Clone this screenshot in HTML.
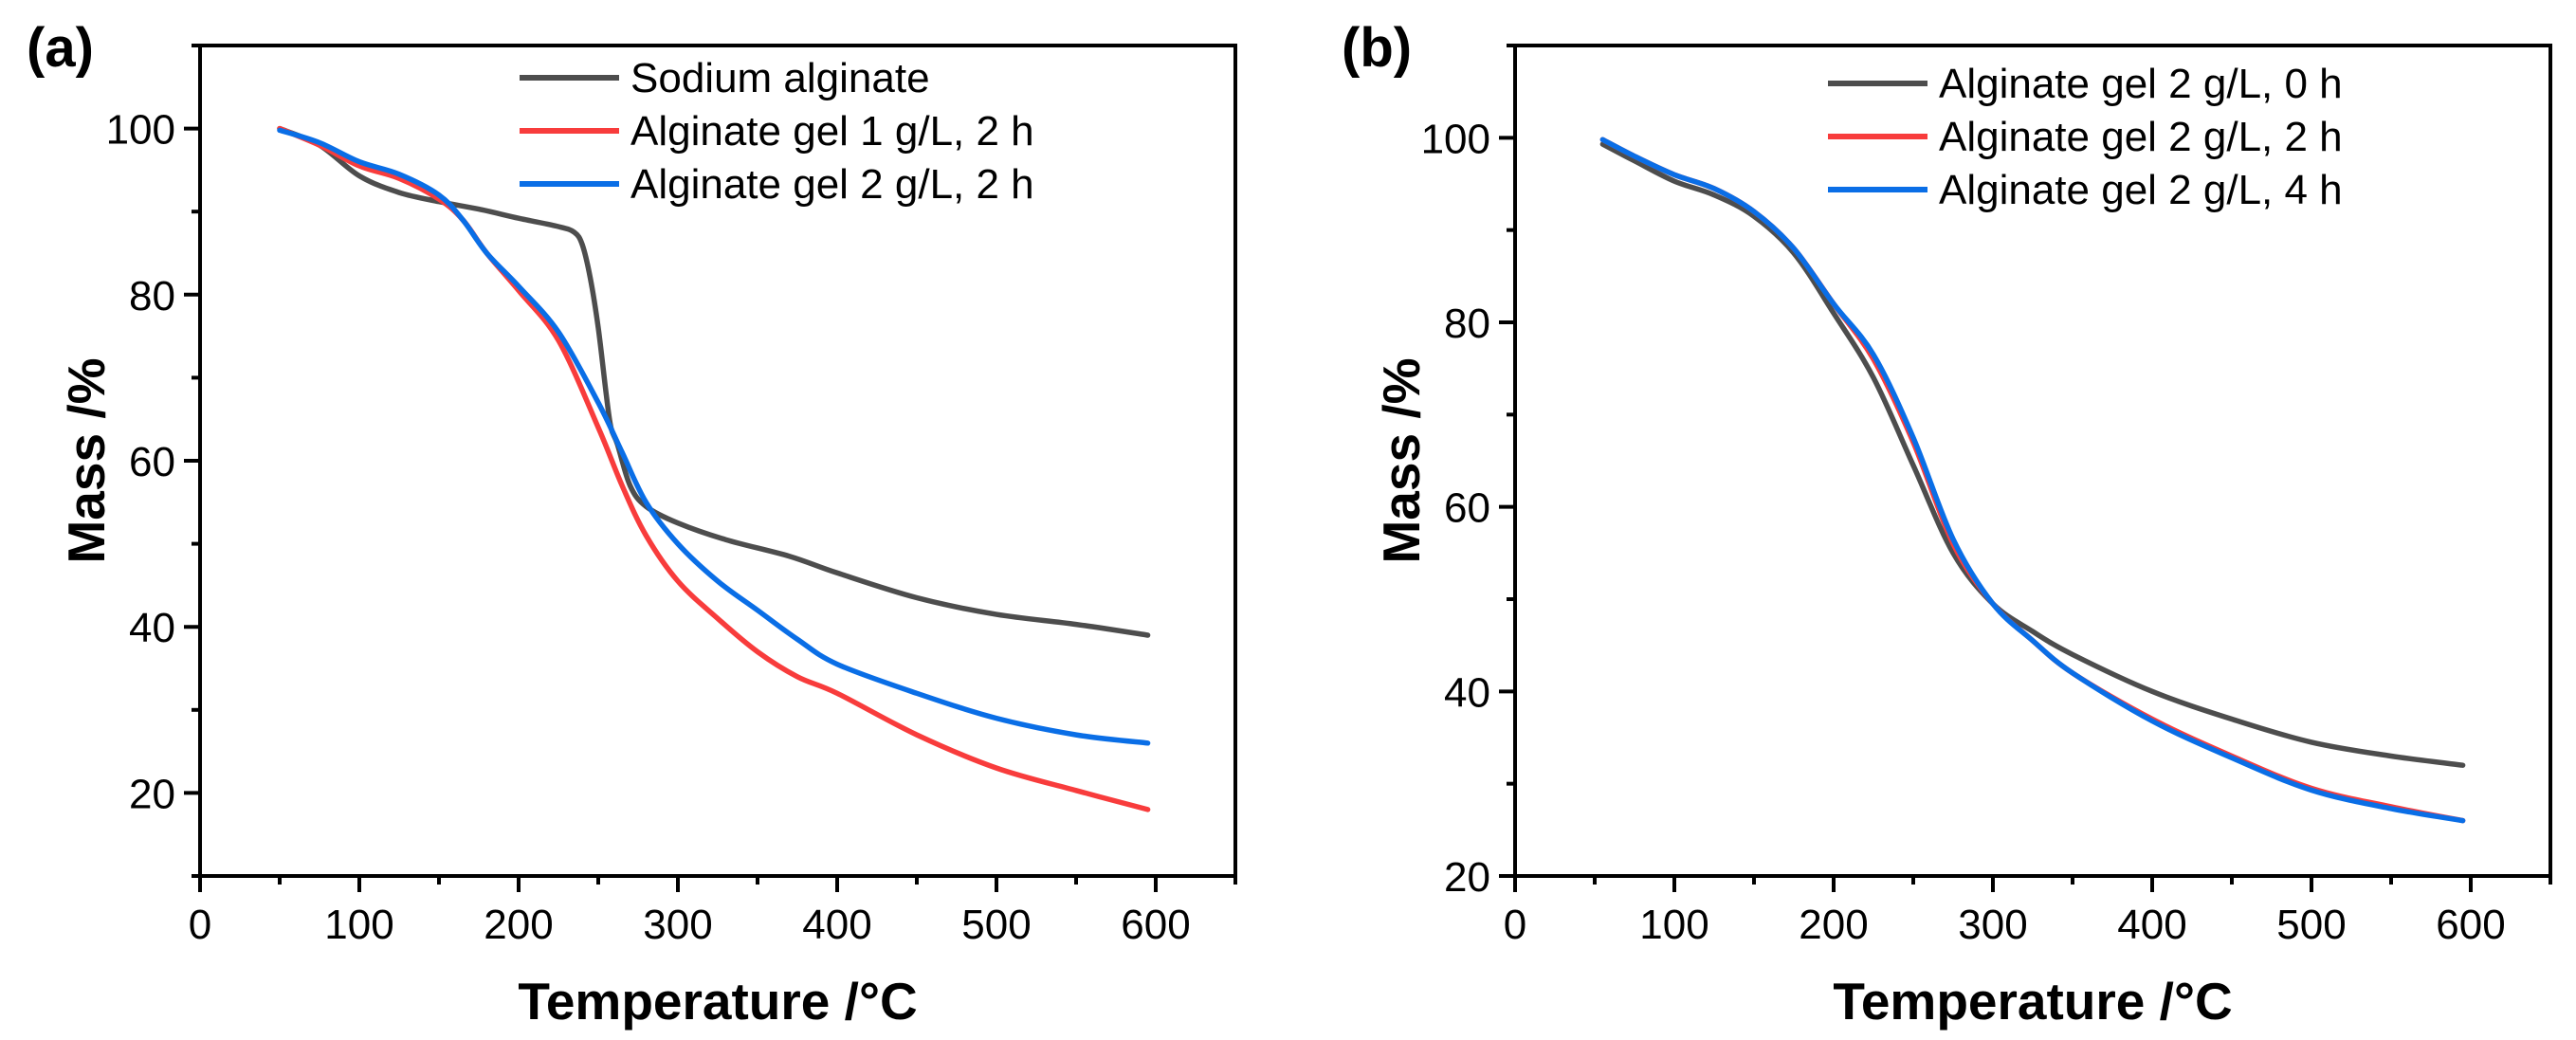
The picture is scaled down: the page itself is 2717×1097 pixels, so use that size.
<!DOCTYPE html>
<html><head><meta charset="utf-8">
<style>
html,body{margin:0;padding:0;background:#fff;}
svg{display:block;font-family:"Liberation Sans",Arial,sans-serif;}
</style></head>
<body>
<svg id="fig" width="2717" height="1097" viewBox="0 0 2717 1097" xmlns="http://www.w3.org/2000/svg"></svg>
<script>
// ---- Panel (a) data ----
const tempA_sodium = [50,75,100,125,150,175,200,225,235,240,245,250,255,258,262,270,280,300,330,370,400,450,500,550,595];
const massA_sodium = [100,98,94.3,92.3,91.2,90.3,89.2,88.2,87.5,86,82,76,68,64,62,57,54.5,52.5,50.5,48.5,46.5,43.5,41.5,40.3,39];
const tempA_gel1 = [50,75,100,125,150,165,180,200,225,250,265,280,300,325,350,375,400,450,500,550,595];
const massA_gel1 = [100,98,95.5,94,91.5,89,85,80.5,74.5,64,57,51,45.5,41,37,34,32,27,23,20.3,18];
const tempA_gel2 = [50,75,100,125,150,165,180,200,225,250,265,280,300,325,350,375,400,450,500,550,595];
const massA_gel2 = [99.8,98.3,96,94.5,92,89,85,81,75.5,67,61,55,50,45.5,42,38.5,35.5,32,29,27,26];
// ---- Panel (b) data ----
const tempB = [55,75,100,125,150,175,200,225,250,275,300,325,350,400,450,500,550,595];
const massB_0h = [99.3,97.5,95.3,93.8,91.5,87.5,81,74,64.5,55,49.5,46.5,44,40,37,34.5,33,32];
const massB_2h = [99.8,98,96,94.5,92,88,82,76,67,56,49.5,45.5,42,37,33,29.5,27.5,26];
const massB_4h = [99.8,98,96,94.5,92,88,82,76.5,67.5,56.5,49.5,45.5,42,36.8,32.8,29.3,27.3,26];
const xTicks = [0,100,200,300,400,500,600];
const yTicksA = [20,40,60,80,100];
const yTicksB = [20,40,60,80,100];

const NS="http://www.w3.org/2000/svg";
const svg=document.getElementById('fig');
function mk(tag,attrs,parent){const e=document.createElementNS(NS,tag);for(const k in attrs)e.setAttribute(k,attrs[k]);(parent||svg).appendChild(e);return e;}

function smoothPath(pts){
  let d='M'+pts[0][0].toFixed(1)+','+pts[0][1].toFixed(1);
  for(let i=0;i<pts.length-1;i++){
    const p0=pts[Math.max(i-1,0)],p1=pts[i],p2=pts[i+1],p3=pts[Math.min(i+2,pts.length-1)];
    const k=1/6;
    const c1=[p1[0]+(p2[0]-p0[0])*k,p1[1]+(p2[1]-p0[1])*k];
    const c2=[p2[0]-(p3[0]-p1[0])*k,p2[1]-(p3[1]-p1[1])*k];
    d+='C'+c1[0].toFixed(1)+','+c1[1].toFixed(1)+' '+c2[0].toFixed(1)+','+c2[1].toFixed(1)+' '+p2[0].toFixed(1)+','+p2[1].toFixed(1);
  }
  return d;
}

function panel(cfg){
  const g=mk('g',{});
  
  
  const X=v=>cfg.x0+(v-0)/650*(cfg.x1-cfg.x0);
  const Y=v=>cfg.yb-(v-cfg.ymin)/(cfg.ymax-cfg.ymin)*(cfg.yb-cfg.yt);
  cfg.series.forEach(s=>{
    const pts=s.t.map((t,i)=>[X(t),Y(s.m[i])]);
    const p=mk('path',{d:smoothPath(pts),fill:'none',stroke:s.color,'stroke-width':5.5,'stroke-linejoin':'round','stroke-linecap':'round'},g);
    
    
  });
  const fr=mk('rect',{x:cfg.x0,y:cfg.yt,width:cfg.x1-cfg.x0,height:cfg.yb-cfg.yt,fill:'none',stroke:'#000','stroke-width':4},g);
  
  
  for(let v=0;v<=650;v+=50){
    const major=v%100===0;
    mk('line',{x1:X(v),x2:X(v),y1:cfg.yb,y2:cfg.yb+(major?17:9),stroke:'#000','stroke-width':4},g);
  }
  xTicks.forEach(v=>{
    const t=mk('text',{x:X(v),y:cfg.yb+66,'font-size':44,'text-anchor':'middle',fill:'#000'},g);
    t.textContent=v;
    
    
  });
  for(let v=cfg.ymin;v<=cfg.ymax;v+=10){
    const major=v%20===0;
    mk('line',{x1:cfg.x0-(major?17:9),x2:cfg.x0,y1:Y(v),y2:Y(v),stroke:'#000','stroke-width':4},g);
  }
  cfg.yTicks.forEach(v=>{
    const t=mk('text',{x:cfg.x0-26,y:Y(v)+16,'font-size':44,'text-anchor':'end',fill:'#000'},g);
    t.textContent=v;
    
    
  });
  const xt=mk('text',{x:(cfg.x0+cfg.x1)/2,y:1075,'font-size':55,'font-weight':'bold','text-anchor':'middle'},g);
  xt.textContent='Temperature /°C';
  
  
  const cy=(cfg.yt+cfg.yb)/2;
  const yt=mk('text',{x:cfg.x0-101,y:cy,'font-size':55,'font-weight':'bold','text-anchor':'middle',transform:`rotate(-90 ${cfg.x0-101} ${cy})`},g);
  yt.textContent='Mass /%';
  
  
  const pl=mk('text',{x:cfg.labelX,y:70,'font-size':58,'font-weight':'bold'},g);
  pl.textContent=cfg.label;
  
  
  cfg.series.forEach((s,i)=>{
    const yy=cfg.legY+i*56;
    const lg=mk('g',{},g);
    
    
    mk('line',{x1:cfg.legX,x2:cfg.legX+105,y1:yy,y2:yy,stroke:s.color,'stroke-width':6},lg);
    const t=mk('text',{x:cfg.legX+117,y:yy+15,'font-size':44},lg);
    t.textContent=s.label;
  });
}

const GRAY='#4d4d4d',RED='#f83c3c',BLUE='#0a6ee6';
panel({name:'panel-a',label:'(a)',labelX:28,x0:211,x1:1303,yt:48,yb:924,ymin:10,ymax:110,yTicks:yTicksA,legX:548,legY:82,
  series:[
    {id:'line-sodium-alginate',label:'Sodium alginate',color:GRAY,t:tempA_sodium,m:massA_sodium},
    {id:'line-gel-1gl-2h',label:'Alginate gel 1 g/L, 2 h',color:RED,t:tempA_gel1,m:massA_gel1},
    {id:'line-gel-2gl-2h',label:'Alginate gel 2 g/L, 2 h',color:BLUE,t:tempA_gel2,m:massA_gel2}
  ]});
panel({name:'panel-b',label:'(b)',labelX:1415,x0:1598,x1:2690,yt:48,yb:924,ymin:20,ymax:110,yTicks:yTicksB,legX:1928,legY:88,
  series:[
    {id:'line-gel-0h',label:'Alginate gel 2 g/L, 0 h',color:GRAY,t:tempB,m:massB_0h},
    {id:'line-gel-2h',label:'Alginate gel 2 g/L, 2 h',color:RED,t:tempB,m:massB_2h},
    {id:'line-gel-4h',label:'Alginate gel 2 g/L, 4 h',color:BLUE,t:tempB,m:massB_4h}
  ]});
</script>
</body></html>
